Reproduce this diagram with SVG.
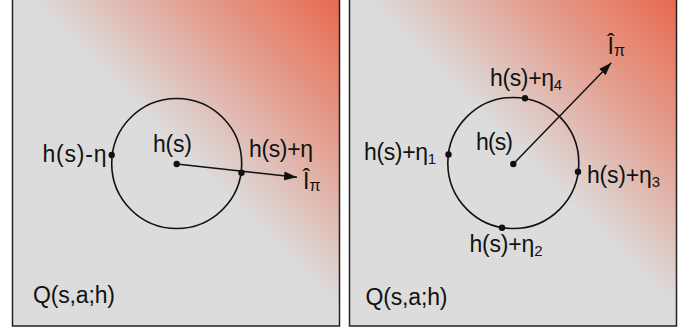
<svg xmlns="http://www.w3.org/2000/svg" width="699" height="335" viewBox="0 0 699 335">
<defs>
<linearGradient id="gL" gradientUnits="userSpaceOnUse" x1="185" y1="154" x2="339" y2="0">
<stop offset="0" stop-color="#dcdcdc"/>
<stop offset="0.45" stop-color="#e3a698"/>
<stop offset="1" stop-color="#e86a50"/>
</linearGradient>
<linearGradient id="gR" gradientUnits="userSpaceOnUse" x1="522" y1="154" x2="676" y2="0">
<stop offset="0" stop-color="#dcdcdc"/>
<stop offset="0.45" stop-color="#e3a698"/>
<stop offset="1" stop-color="#e86a50"/>
</linearGradient>
<marker id="ah" markerUnits="userSpaceOnUse" markerWidth="14" markerHeight="10" refX="13" refY="4.5" orient="auto">
<path d="M0,0 L13,4.5 L0,9 z" fill="#111"/>
</marker>
<style>
.panel{stroke:#222;stroke-width:1.5}
.circ{fill:none;stroke:#111;stroke-width:1.6}
.dot{fill:#111}
.conn{stroke:#111;stroke-width:1.5;fill:none}
text{font-family:"Liberation Sans",Arial,sans-serif;font-size:23px;fill:#111}
.sub{font-size:15px}
.subp{font-size:16px}
</style>
</defs>
<rect x="0" y="0" width="699" height="335" fill="#ffffff"/>
<g id="panel-left">
<rect class="panel" x="12.5" y="-5" width="327" height="331" fill="url(#gL)"/>
<circle class="circ" cx="176.7" cy="163.5" r="65"/>
<circle class="dot" cx="111.7" cy="155" r="3.2"/>
<circle class="dot" cx="176.7" cy="164" r="3.2"/>
<circle class="dot" cx="241.5" cy="172.7" r="3.2"/>
<text x="42.5" y="161.5" textLength="64">h(s)-η</text>
<text x="153" y="151.5" textLength="39">h(s)</text>
<text x="249" y="156.5" textLength="64">h(s)+η</text>
<text x="303" y="188.5">Î<tspan class="subp" dy="2">π</tspan></text>
<text x="33" y="303" textLength="82">Q(s,a;h)</text>
</g>
<g id="panel-right">
<rect class="panel" x="349.5" y="-5" width="327" height="331" fill="url(#gR)"/>
<circle class="circ" cx="513.3" cy="163" r="65.5"/>
<circle class="dot" cx="448.5" cy="154.5" r="3.2"/>
<circle class="dot" cx="525" cy="98.3" r="3.2"/>
<circle class="dot" cx="578" cy="171.7" r="3.2"/>
<circle class="dot" cx="502" cy="227.7" r="3.2"/>
<circle class="dot" cx="513.3" cy="164" r="3.2"/>
<text x="476" y="150" textLength="37">h(s)</text>
<text x="364" y="160" textLength="72">h(s)+η<tspan class="sub" dy="4">1</tspan></text>
<text x="490" y="86" textLength="72">h(s)+η<tspan class="sub" dy="4">4</tspan></text>
<text x="587" y="183" textLength="73">h(s)+η<tspan class="sub" dy="4">3</tspan></text>
<text x="469.5" y="251.5" textLength="73">h(s)+η<tspan class="sub" dy="4">2</tspan></text>
<text x="607.5" y="53.5">Î<tspan class="subp" dy="2">π</tspan></text>
<text x="365.5" y="305" textLength="82">Q(s,a;h)</text>
</g>
<g id="connectors">
<line class="conn" x1="176.7" y1="164" x2="297" y2="177.3" marker-end="url(#ah)"/>
<line class="conn" x1="513.3" y1="164" x2="611.3" y2="62.7" marker-end="url(#ah)"/>
</g>
</svg>
